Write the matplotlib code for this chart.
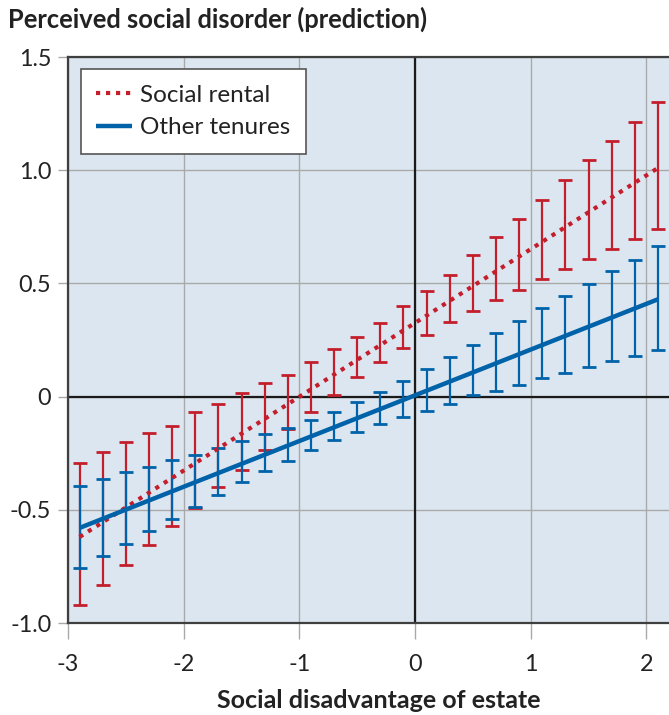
import matplotlib
matplotlib.use("Agg")
import matplotlib.pyplot as plt
import numpy as np

# Estate disadvantage values where predictions are evaluated
x_points = [-2.9, -2.7, -2.5, -2.3, -2.1, -1.9, -1.7, -1.5, -1.3, -1.1, -0.9, -0.7, -0.5,
            -0.3, -0.1, 0.1, 0.3, 0.5, 0.7, 0.9, 1.1, 1.3, 1.5, 1.7, 1.9, 2.1]

# Social rental: upper / lower confidence limits
social_upper = [-0.293, -0.245, -0.201, -0.162, -0.131, -0.069, -0.031, 0.016, 0.060, 0.097,
                0.154, 0.209, 0.265, 0.323, 0.400, 0.468, 0.538, 0.626, 0.704, 0.785,
                0.869, 0.956, 1.045, 1.131, 1.213, 1.303]
social_lower = [-0.922, -0.831, -0.744, -0.654, -0.570, -0.490, -0.400, -0.322, -0.235, -0.145,
                -0.066, 0.007, 0.085, 0.154, 0.216, 0.273, 0.329, 0.378, 0.425, 0.473,
                0.518, 0.563, 0.607, 0.653, 0.694, 0.740]

# Other tenures: upper / lower confidence limits
other_upper = [-0.393, -0.362, -0.334, -0.313, -0.282, -0.259, -0.229, -0.196, -0.166, -0.138,
               -0.103, -0.066, -0.024, 0.022, 0.071, 0.122, 0.175, 0.228, 0.282, 0.335,
               0.390, 0.444, 0.498, 0.553, 0.604, 0.666]
other_lower = [-0.756, -0.704, -0.651, -0.593, -0.540, -0.488, -0.434, -0.378, -0.328, -0.285,
               -0.235, -0.193, -0.156, -0.122, -0.091, -0.063, -0.032, 0.006, 0.023, 0.053,
               0.081, 0.103, 0.131, 0.156, 0.178, 0.204]

# Fitted prediction lines (end points)
line_x = [-2.9, 2.1]
social_line = [-0.62, 1.01]
other_line = [-0.58, 0.43]

x_ticks = [-3, -2, -1, 0, 1, 2]
y_ticks = [-1.0, -0.5, 0.0, 0.5, 1.0, 1.5]
y_tick_labels = ["-1.0", "-0.5", "0", "0.5", "1.0", "1.5"]

RED = "#C41E2C"
BLUE = "#0062A8"
BG = "#DCE6F0"
GRID = "#A9A9A9"
SPINE = "#3F3F3F"

plt.rcParams['font.family'] = ['Lato', 'DejaVu Sans']

W, H = 669, 715
fig = plt.figure(figsize=(W / 100, H / 100), dpi=100)
ax = fig.add_axes([68 / W, (H - 623) / H, (669 - 68) / W, (623 - 57) / H])
ax.set_facecolor(BG)

ax.set_xlim(-3, 2.195)
ax.set_ylim(-1.0, 1.5)

ax.set_xticks(x_ticks)
ax.set_xticklabels([str(v) for v in x_ticks])
ax.set_yticks(y_ticks)
ax.set_yticklabels(y_tick_labels)
ax.grid(True, color=GRID, linewidth=1.0, zorder=0)
ax.set_axisbelow(True)

ax.tick_params(axis='both', width=1.0, color=GRID, labelsize=16.8, labelcolor="#222222")
ax.tick_params(axis='x', length=11.5, pad=11)
ax.tick_params(axis='y', length=7, pad=5)

for side in ("left", "bottom", "top"):
    ax.spines[side].set_color(SPINE)
    ax.spines[side].set_linewidth(1.6)
ax.spines["right"].set_visible(False)

# Zero reference lines
ax.axhline(0, color="#1A1A1A", linewidth=1.6, zorder=1)
ax.axvline(0, color="#1A1A1A", linewidth=1.6, zorder=1)

xp = np.array(x_points)
s_up, s_lo = np.array(social_upper), np.array(social_lower)
o_up, o_lo = np.array(other_upper), np.array(other_lower)

s_mid = (s_up + s_lo) / 2
o_mid = (o_up + o_lo) / 2

ax.errorbar(xp, s_mid, yerr=[s_mid - s_lo, s_up - s_mid], fmt='none',
            ecolor=RED, elinewidth=1.6, capsize=4.7, capthick=2.0, zorder=2)
ax.errorbar(xp, o_mid, yerr=[o_mid - o_lo, o_up - o_mid], fmt='none',
            ecolor=BLUE, elinewidth=1.6, capsize=4.7, capthick=2.0, zorder=3)

ax.plot(line_x, social_line, color=RED, linewidth=3.0, linestyle=(0, (1, 1.4)),
        label="Social rental", zorder=4)
ax.plot(line_x, other_line, color=BLUE, linewidth=3.2, linestyle='-',
        label="Other tenures", zorder=5, solid_capstyle='butt')

leg = ax.legend(loc="upper left", bbox_to_anchor=(0.021, 0.979), fontsize=17.5,
                frameon=True, fancybox=False, framealpha=1.0, edgecolor="#555555",
                handlelength=1.45, handletextpad=0.33, borderpad=0.65, labelspacing=0.47,
                borderaxespad=0)
leg.get_frame().set_linewidth(1.2)
for t in leg.get_texts():
    t.set_color("#222222")

ax.set_xlabel("Social disadvantage of estate", fontsize=18, fontweight='bold',
              color="#222222")
ax.xaxis.set_label_coords((379 - 68) / (669 - 68), -(700 - 623) / (623 - 57))
ax.xaxis.label.set_va('center')
fig.text(8 / W, 1 - 19 / H, "Perceived social disorder (prediction)", fontsize=18.4,
         fontweight='bold', color="#222222", ha='left', va='center')

fig.savefig("out.png", dpi=100)
